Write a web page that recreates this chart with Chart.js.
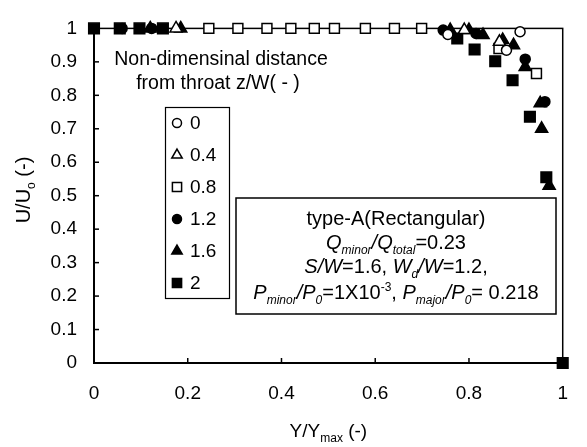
<!DOCTYPE html>
<html>
<head>
<meta charset="utf-8">
<script src="https://cdn.jsdelivr.net/npm/chart.js@4.4.0/dist/chart.umd.min.js"></script>
<style>
  html, body { margin: 0; padding: 0; background: #fff; }
  #wrap { width: 587px; height: 447px; }
</style>
</head>
<body>
<div id="wrap"><canvas id="c" width="587" height="447"></canvas></div>
<script>
// z/W series
const seriesLabels = ['0', '0.4', '0.8', '1.2', '1.6', '2'];

const s00X = [0.755, 0.88, 0.909];
const s00Y = [0.982, 0.935, 0.99];

const s04X = [0.175, 0.79, 0.865];
const s04Y = [1, 0.995, 0.96];

const s08X = [0.245, 0.307, 0.369, 0.42, 0.47, 0.513, 0.579, 0.641, 0.699, 0.864, 0.944];
const s08Y = [1, 1, 1, 1, 1, 1, 1, 1, 1, 0.94, 0.865];

const s12X = [0.06, 0.123, 0.745, 0.815, 0.92, 0.962];
const s12Y = [1, 1, 0.995, 0.985, 0.908, 0.781];

const s16X = [0.12, 0.185, 0.76, 0.80, 0.83, 0.872, 0.895, 0.92, 0.952, 0.955, 0.971];
const s16Y = [1, 1, 0.995, 0.995, 0.98, 0.965, 0.95, 0.885, 0.776, 0.70, 0.53];

const s20X = [0, 0.055, 0.097, 0.147, 0.775, 0.812, 0.856, 0.893, 0.93, 0.965, 1.0];
const s20Y = [1, 1, 1, 1, 0.97, 0.937, 0.902, 0.845, 0.736, 0.555, 0];

const xTickLabels = ['0', '0.2', '0.4', '0.6', '0.8', '1'];
const yTickLabels = ['0', '0.1', '0.2', '0.3', '0.4', '0.5', '0.6', '0.7', '0.8', '0.9', '1'];

const FONT = "'Liberation Sans', Arial, sans-serif";

const pts = (xs, ys) => xs.map((x, i) => ({ x: x, y: ys[i] }));

const styles = [
  { pointStyle: 'circle', radius: 5, fill: '#fff' },
  { pointStyle: 'triangle', radius: 7, fill: '#fff' },
  { pointStyle: 'rect', radius: 7, fill: '#fff' },
  { pointStyle: 'circle', radius: 5, fill: '#000' },
  { pointStyle: 'triangle', radius: 7, fill: '#000' },
  { pointStyle: 'rect', radius: 7.5, fill: '#000' }
];
const allData = [pts(s00X, s00Y), pts(s04X, s04Y), pts(s08X, s08Y), pts(s12X, s12Y), pts(s16X, s16Y), pts(s20X, s20Y)];

const datasets = seriesLabels.map((lab, i) => ({
  label: lab,
  data: allData[i],
  pointStyle: styles[i].pointStyle,
  pointRadius: styles[i].radius,
  pointBackgroundColor: styles[i].fill,
  pointBorderColor: '#000',
  pointBorderWidth: 1.5,
  showLine: false,
  clip: false
}));

function drawMarker(ctx, style, r, fill, x, y) {
  ctx.save();
  ctx.fillStyle = fill;
  ctx.strokeStyle = '#000';
  ctx.lineWidth = 1.5;
  ctx.beginPath();
  if (style === 'circle') {
    ctx.arc(x, y, r, 0, Math.PI * 2);
  } else if (style === 'triangle') {
    for (let k = 0; k < 3; k++) {
      const a = k * 2 * Math.PI / 3;
      const px = x + Math.sin(a) * r, py = y - Math.cos(a) * r;
      if (k === 0) ctx.moveTo(px, py); else ctx.lineTo(px, py);
    }
    ctx.closePath();
  } else {
    const h = r * Math.SQRT1_2;
    ctx.rect(x - h, y - h, 2 * h, 2 * h);
  }
  ctx.fill();
  ctx.stroke();
  ctx.restore();
}

// runs: [text, kind] kind n=normal i=italic s=sub is=italic sub sup=superscript
function runFont(kind, size) {
  const small = Math.round(size * 0.62);
  if (kind === 'i') return `italic ${size}px ${FONT}`;
  if (kind === 'is') return `italic ${small}px ${FONT}`;
  if (kind === 's' || kind === 'sup') return `${small}px ${FONT}`;
  return `${size}px ${FONT}`;
}
function runWidth(ctx, runs, size) {
  let w = 0;
  runs.forEach(([t, k]) => { ctx.font = runFont(k, size); w += ctx.measureText(t).width; });
  return w;
}
function drawRuns(ctx, runs, cx, y, size) {
  let x = cx - runWidth(ctx, runs, size) / 2;
  ctx.textAlign = 'left';
  ctx.textBaseline = 'alphabetic';
  runs.forEach(([t, k]) => {
    ctx.font = runFont(k, size);
    let dy = 0;
    if (k === 's' || k === 'is') dy = size * 0.25;
    if (k === 'sup') dy = -size * 0.4;
    ctx.fillText(t, x, y + dy);
    x += ctx.measureText(t).width;
  });
}

const boxLines = [
  [['type-A(Rectangular)', 'n']],
  [['Q', 'i'], ['minor', 'is'], ['/Q', 'i'], ['total', 'is'], ['=0.23', 'n']],
  [['S/W', 'i'], ['=1.6, ', 'n'], ['W', 'i'], ['d', 'is'], ['/W', 'i'], ['=1.2,', 'n']],
  [['P', 'i'], ['minor', 'is'], ['/P', 'i'], ['0', 'is'], ['=1X10', 'n'], ['-3', 'sup'], [', ', 'n'],
   ['P', 'i'], ['major', 'is'], ['/P', 'i'], ['0', 'is'], ['= 0.218', 'n']]
];

const framePlugin = {
  id: 'frame',
  beforeDatasetsDraw(chart) {
    const { ctx, chartArea: a, scales } = chart;
    ctx.save();
    ctx.strokeStyle = '#000';
    ctx.lineWidth = 1.5;
    ctx.strokeRect(a.left, a.top, a.right - a.left, a.bottom - a.top);
    ctx.lineWidth = 2;
    ctx.beginPath();
    ctx.moveTo(a.left, a.top); ctx.lineTo(a.left, a.bottom); ctx.lineTo(a.right, a.bottom);
    ctx.stroke();
    ctx.lineWidth = 1.5;
    scales.y.ticks.forEach(t => {
      const py = scales.y.getPixelForValue(t.value);
      ctx.beginPath(); ctx.moveTo(a.left, py); ctx.lineTo(a.left + 5, py); ctx.stroke();
    });
    scales.x.ticks.forEach(t => {
      const px = scales.x.getPixelForValue(t.value);
      ctx.beginPath(); ctx.moveTo(px, a.bottom); ctx.lineTo(px, a.bottom - 5); ctx.stroke();
    });
    ctx.restore();
  },
  afterDraw(chart) {
    const { ctx, chartArea: a } = chart;
    ctx.save();
    ctx.fillStyle = '#000';

    // axis titles
    drawRuns(ctx, [['Y/Y', 'n'], ['max', 's'], [' (-)', 'n']], (a.left + a.right) / 2, 437, 19);
    ctx.save();
    ctx.translate(30, 190);
    ctx.rotate(-Math.PI / 2);
    drawRuns(ctx, [['U/U', 'n'], ['o', 's'], [' (-)', 'n']], 0, 0, 20);
    ctx.restore();

    // heading of legend
    drawRuns(ctx, [['Non-dimensinal distance', 'n']], 221, 65, 19.5);
    drawRuns(ctx, [['from throat z/W( - )', 'n']], 218, 89, 19.5);

    // legend box
    ctx.fillStyle = '#fff';
    ctx.fillRect(165, 107, 64, 191);
    ctx.strokeStyle = '#000';
    ctx.lineWidth = 1.2;
    ctx.strokeRect(165.5, 107.5, 64, 191);
    ctx.fillStyle = '#000';
    chart.data.datasets.forEach((ds, i) => {
      const yy = 123 + i * 32;
      drawMarker(ctx, ds.pointStyle, ds.pointStyle === 'rect' ? 6.5 : (ds.pointStyle === 'triangle' ? 6 : 4.5),
        ds.pointBackgroundColor, 177, yy);
      ctx.fillStyle = '#000';
      ctx.font = `19px ${FONT}`;
      ctx.textAlign = 'left';
      ctx.textBaseline = 'middle';
      ctx.fillText(ds.label, 190, yy + 1);
    });

    // conditions box
    ctx.fillStyle = '#fff';
    ctx.fillRect(236, 198, 320, 116);
    ctx.lineWidth = 1.5;
    ctx.strokeRect(236, 198, 320, 116);
    ctx.fillStyle = '#000';
    const baselines = [225, 249, 273, 299];
    boxLines.forEach((ln, i) => drawRuns(ctx, ln, 396, baselines[i], 20));
    ctx.restore();
  }
};

new Chart(document.getElementById('c').getContext('2d'), {
  type: 'scatter',
  data: { datasets: datasets },
  options: {
    responsive: false,
    animation: false,
    devicePixelRatio: 1,
    layout: { padding: { top: 15, right: 8, left: 0, bottom: 0 } },
    plugins: { legend: { display: false }, tooltip: { enabled: false } },
    scales: {
      x: {
        type: 'linear', min: 0, max: 1,
        grid: { display: false, drawTicks: false },
        border: { display: false },
        ticks: {
          stepSize: 0.2, maxRotation: 0, padding: 19, color: '#000',
          font: { family: FONT, size: 19 },
          callback: (v, i) => xTickLabels[i]
        },
        afterFit: s => { s.height = 84; }
      },
      y: {
        type: 'linear', min: 0, max: 1,
        grid: { display: false, drawTicks: false },
        border: { display: false },
        ticks: {
          stepSize: 0.1, padding: 17, color: '#000',
          font: { family: FONT, size: 19 },
          callback: (v, i) => yTickLabels[i]
        },
        afterFit: s => { s.width = 94; }
      }
    }
  },
  plugins: [framePlugin]
});
</script>
</body>
</html>
